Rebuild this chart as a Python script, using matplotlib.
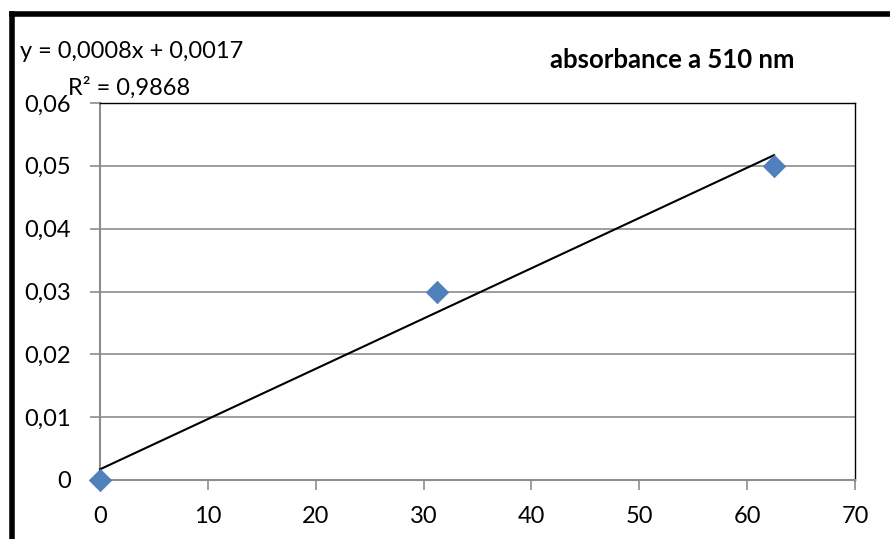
import matplotlib
matplotlib.use("Agg")
import matplotlib.pyplot as plt
from matplotlib.lines import Line2D

plt.rcParams['font.family'] = ['Lato', 'DejaVu Sans']

# Concentration vs absorbance
concentration = [0, 31.25, 62.5]
absorbance = [0, 0.03, 0.05]
slope = 0.0008
intercept = 0.0017
r_squared = 0.9868
x_ticks = [0, 10, 20, 30, 40, 50, 60, 70]
y_ticks = [0, 0.01, 0.02, 0.03, 0.04, 0.05, 0.06]
y_tick_labels = ['0', '0,01', '0,02', '0,03', '0,04', '0,05', '0,06']
title = 'absorbance a 510 nm'

W, H = 890, 539
fig = plt.figure(figsize=(W / 100, H / 100), dpi=100)
ax = fig.add_axes([100 / W, 1 - 480 / H, 755 / W, 377 / H])

ax.set_xlim(0, 70)
ax.set_ylim(0, 0.06)
ax.set_xticks(x_ticks)
ax.set_xticklabels([str(t) for t in x_ticks])
ax.set_yticks(y_ticks)
ax.set_yticklabels(y_tick_labels)

ax.grid(axis='y', color='#8c8c8c', linewidth=1.2)
ax.set_axisbelow(True)
for side in ('top', 'right'):
    ax.spines[side].set_color('black')
    ax.spines[side].set_linewidth(1.0)
for side in ('left', 'bottom'):
    ax.spines[side].set_color('#8c8c8c')
    ax.spines[side].set_linewidth(1.5)
ax.tick_params(axis='both', direction='out', length=7, width=1.2, color='#8c8c8c',
               labelsize=17)
ax.tick_params(axis='x', pad=12)
ax.tick_params(axis='y', pad=14)

# trendline over the data range
x_end = concentration[-1]
ax.plot([0, x_end], [intercept, slope * x_end + intercept], color='black', linewidth=1.5,
        zorder=3, clip_on=False)
ax.scatter(concentration, absorbance, marker='D', s=130, color='#4f81bd',
           edgecolors='#4a7ab5', linewidths=0.5, zorder=4, clip_on=False)

fig.text(20 / W, 1 - 52 / H, 'y = 0,0008x + 0,0017', fontsize=17, va='center', ha='left')
fig.text(68 / W, 1 - 88 / H, 'R² = 0,9868', fontsize=17, va='center', ha='left')
fig.text(672 / W, 1 - 60 / H, title, fontsize=18.5, fontweight='bold', va='center', ha='center')

# outer chart frame
fig.add_artist(Line2D([12 / W, 1.0], [1 - 14 / H, 1 - 14 / H], color='black', linewidth=4,
                      transform=fig.transFigure))
fig.add_artist(Line2D([12 / W, 12 / W], [0, 1 - 14 / H], color='black', linewidth=4,
                      transform=fig.transFigure))

fig.savefig('out.png', dpi=100)
